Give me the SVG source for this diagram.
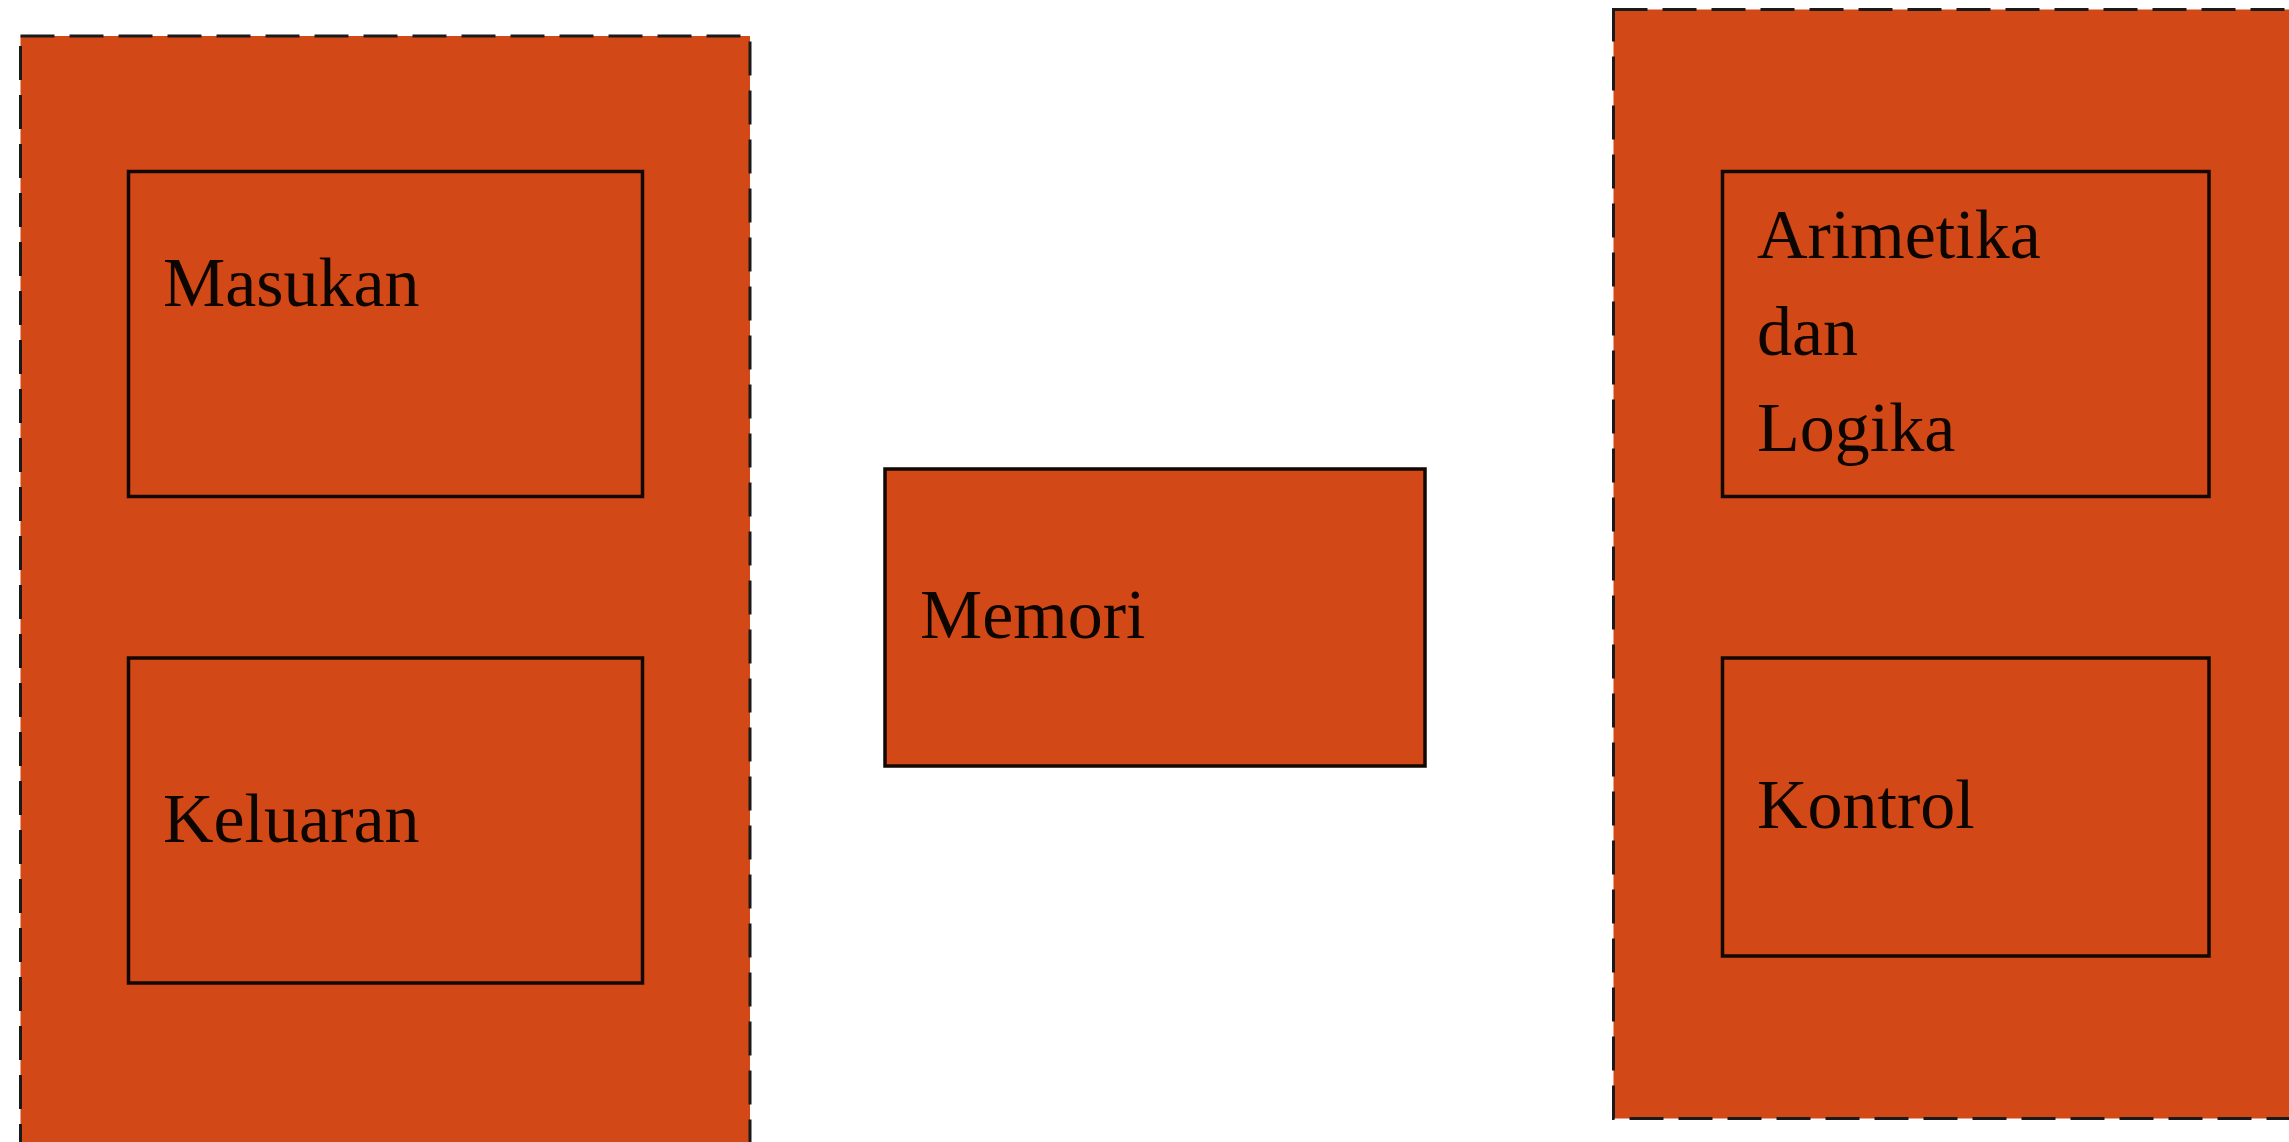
<svg xmlns="http://www.w3.org/2000/svg" width="2289" height="1142" viewBox="0 0 2289 1142">
<style>
.container{fill:#D24817;stroke:#1a1a1a;stroke-width:3;stroke-dasharray:34 15}
.box{fill:#D24817;stroke:#120800;stroke-width:3.5}
.label{font-family:"Liberation Serif","Times New Roman",serif;font-size:70px;fill:#0d0500}
</style>
<rect width="2289" height="1142" fill="#ffffff"/>
<g id="group-left">
<rect class="container" x="20.5" y="36" width="729.5" height="1130"/>
</g>
<g id="group-right">
<rect class="container" x="1613.5" y="9.5" width="720" height="1109"/>
</g>
<g id="node-masukan">
<rect class="box" x="128.5" y="171.5" width="514" height="325"/>
<text class="label" x="163" y="306">Masukan</text>
</g>
<g id="node-keluaran">
<rect class="box" x="128.5" y="658" width="514" height="325"/>
<text class="label" x="163" y="842">Keluaran</text>
</g>
<g id="node-memori">
<rect class="box" x="885" y="469" width="540" height="297" stroke-width="4"/>
<text class="label" x="920" y="638">Memori</text>
</g>
<g id="node-arimetika">
<rect class="box" x="1722.5" y="171.5" width="486.5" height="325"/>
<text class="label" x="1757"><tspan x="1757" y="258">Arimetika</tspan><tspan x="1757" y="355">dan</tspan><tspan x="1757" y="451">Logika</tspan></text>
</g>
<g id="node-kontrol">
<rect class="box" x="1722.5" y="658" width="486.5" height="298"/>
<text class="label" x="1757" y="828">Kontrol</text>
</g>
<g id="connectors"></g>
</svg>
